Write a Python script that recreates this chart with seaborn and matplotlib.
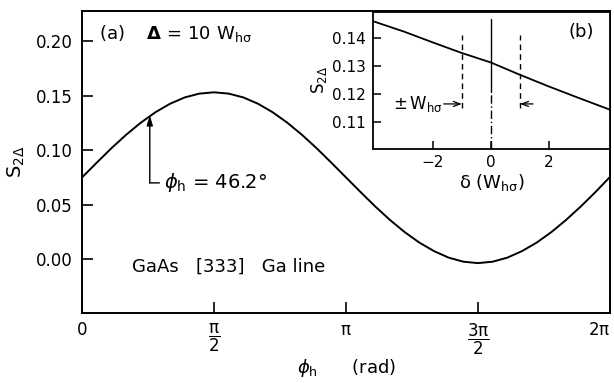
import numpy as np
import pandas as pd
import matplotlib
matplotlib.use("Agg")
import matplotlib.pyplot as plt
import seaborn as sns

# Main panel: S_2Delta versus azimuth phi_h (degrees, converted to rad below)
phi_deg = [0, 10, 20, 30, 40, 50, 60, 70, 80, 90, 100, 110, 120,
           130, 140, 150, 160, 170, 180, 190, 200, 210, 220, 230, 240,
           250, 260, 270, 280, 290, 300, 310, 320, 330, 340, 350, 360]
s_main = [0.075, 0.0885, 0.1017, 0.114, 0.1251, 0.1347, 0.1425, 0.1483,
          0.1518, 0.153, 0.1518, 0.1483, 0.1425, 0.1347, 0.1251, 0.114,
          0.1017, 0.0885, 0.075, 0.0615, 0.0483, 0.036, 0.0249, 0.0153,
          0.0075, 0.0015, -0.0022, -0.0035, -0.0022, 0.0015, 0.0075,
          0.0153, 0.0249, 0.036, 0.0483, 0.0615, 0.0755]

# Inset: S_2Delta versus detuning delta (units of W_h sigma)
delta = [-4.2, -3, -2, -1, 0, 1, 2, 3, 4.2]
s_inset = [0.1464, 0.1422, 0.1383, 0.1345, 0.1311, 0.1267, 0.1225, 0.1185, 0.1138]

main_xticks = [0, np.pi / 2, np.pi, 3 * np.pi / 2, 2 * np.pi]
main_xticklabels = ["0", r"$\dfrac{\pi}{2}$", r"$\pi$", r"$\dfrac{3\pi}{2}$", r"$2\pi$"]
main_yticks = [0.00, 0.05, 0.10, 0.15, 0.20]
inset_xticks = [-2, 0, 2]
inset_yticks = [0.11, 0.12, 0.13, 0.14]
phi_h_marker_deg = 46.2
window_half_width = 1.0

sns.set_theme(style="white")
plt.rcParams["font.family"] = ["DejaVu Sans"]
plt.rcParams["mathtext.fontset"] = "dejavusans"
plt.rcParams["mathtext.default"] = "regular"
for key in ("text.color", "axes.labelcolor", "xtick.color", "ytick.color",
            "axes.edgecolor"):
    plt.rcParams[key] = "black"

fig = plt.figure(figsize=(6.14, 3.83), dpi=100)
fig.patch.set_facecolor("white")
ax = fig.add_axes([0.1336, 0.1828, 0.8599, 0.7885])

df_main = pd.DataFrame({"phi": np.deg2rad(phi_deg), "S": s_main})
sns.lineplot(data=df_main, x="phi", y="S", ax=ax, color="black",
             linewidth=1.4, estimator=None, sort=False)

ax.set_xlim(0, 2 * np.pi)
ax.set_ylim(-0.0492, 0.2275)
ax.set_xticks(main_xticks)
ax.set_xticklabels(main_xticklabels)
ax.set_yticks(main_yticks)
ax.set_yticklabels([f"{v:.2f}" for v in main_yticks])
ax.tick_params(axis="both", direction="in", length=8, width=1.2,
               labelsize=12, colors="black", bottom=True, left=True,
               top=False, right=False)
ax.tick_params(axis="x", pad=6)
ax.tick_params(axis="y", pad=7)
ax.get_xticklabels()[-1].set_horizontalalignment("right")
for sp in ax.spines.values():
    sp.set_color("black")
    sp.set_linewidth(1.4)

ax.set_xlabel(r"$\mathit{\phi}_h$      (rad)", fontsize=13, labelpad=0)
ax.set_ylabel(r"$S_{2\Delta}$", fontsize=14, labelpad=6)

ax.text(0.2, 0.2065, r"(a)    $\mathbf{\Delta}$ = 10 $W_{h\sigma}$",
        fontsize=13, va="center", ha="left")
ax.text(0.6, -0.0065, "GaAs   [333]   Ga line", fontsize=13,
        va="center", ha="left")

# phi_h marker: vertical arrow up to the curve, elbow to the label
phi_h = np.deg2rad(phi_h_marker_deg)
s_at_phi_h = np.interp(phi_h, df_main["phi"], df_main["S"])
label_y = 0.070
ax.annotate("", xy=(phi_h, s_at_phi_h + 0.001), xytext=(phi_h, label_y),
            arrowprops=dict(arrowstyle="-|>,head_length=0.5,head_width=0.15",
                            color="black", lw=1.0, shrinkA=0, shrinkB=0))
ax.annotate(r"$\mathit{\phi}_h$ = 46.2°", xy=(phi_h, label_y),
            xytext=(phi_h + 0.17, label_y), fontsize=14, va="center",
            ha="left",
            arrowprops=dict(arrowstyle="-", color="black", lw=1.0,
                            shrinkA=1, shrinkB=0))

# Inset panel (b)
axin = fig.add_axes([0.6075, 0.611, 0.386, 0.358])
axin.set_facecolor("white")
df_in = pd.DataFrame({"delta": delta, "S": s_inset})
sns.lineplot(data=df_in, x="delta", y="S", ax=axin, color="black",
             linewidth=1.3, estimator=None, sort=False)
axin.set_xlim(-4.05, 4.09)
axin.set_ylim(0.1002, 0.1492)
axin.set_xticks(inset_xticks)
axin.set_xticklabels(["\u22122", "0", "2"])
axin.set_yticks(inset_yticks)
axin.set_yticklabels([f"{v:.2f}" for v in inset_yticks])
axin.tick_params(axis="both", direction="in", length=6, width=1.1,
                 labelsize=11, colors="black", bottom=True, left=True,
                 top=False, right=False)
axin.tick_params(axis="x", pad=4)
axin.tick_params(axis="y", pad=5)
for sp in axin.spines.values():
    sp.set_color("black")
    sp.set_linewidth(1.3)
axin.set_xlabel(r"$\delta$ ($W_{h\sigma}$)", fontsize=13, labelpad=2)
axin.set_ylabel(r"$S_{2\Delta}$", fontsize=12, labelpad=2)
axin.text(0.88, 0.85, "(b)", transform=axin.transAxes, fontsize=13,
          ha="center", va="center")

# window edges at +/- W_h sigma and the line centre
for d in (-window_half_width, window_half_width):
    axin.plot([d, d], [0.1149, 0.1410], color="black", lw=1.0,
              linestyle=(0, (4, 3)))
axin.plot([0, 0], [0.1205, 0.1467], color="black", lw=1.0)
axin.plot([0, 0], [0.1002, 0.1205], color="black", lw=1.0,
          linestyle=(0, (6, 2, 1, 2)))

arrow_y = 0.1163
axin.annotate("", xy=(-window_half_width, arrow_y), xytext=(-1.62, arrow_y),
              arrowprops=dict(arrowstyle="->,head_length=0.4,head_width=0.15",
                              color="black", lw=0.9, shrinkA=0, shrinkB=0))
axin.annotate("", xy=(window_half_width, arrow_y), xytext=(1.45, arrow_y),
              arrowprops=dict(arrowstyle="->,head_length=0.4,head_width=0.15",
                              color="black", lw=0.9, shrinkA=0, shrinkB=0))
axin.text(-1.65, arrow_y, r"$\pm\,W_{h\sigma}$", fontsize=12, ha="right",
          va="center")

fig.savefig("out.png", dpi=100, facecolor="white")
